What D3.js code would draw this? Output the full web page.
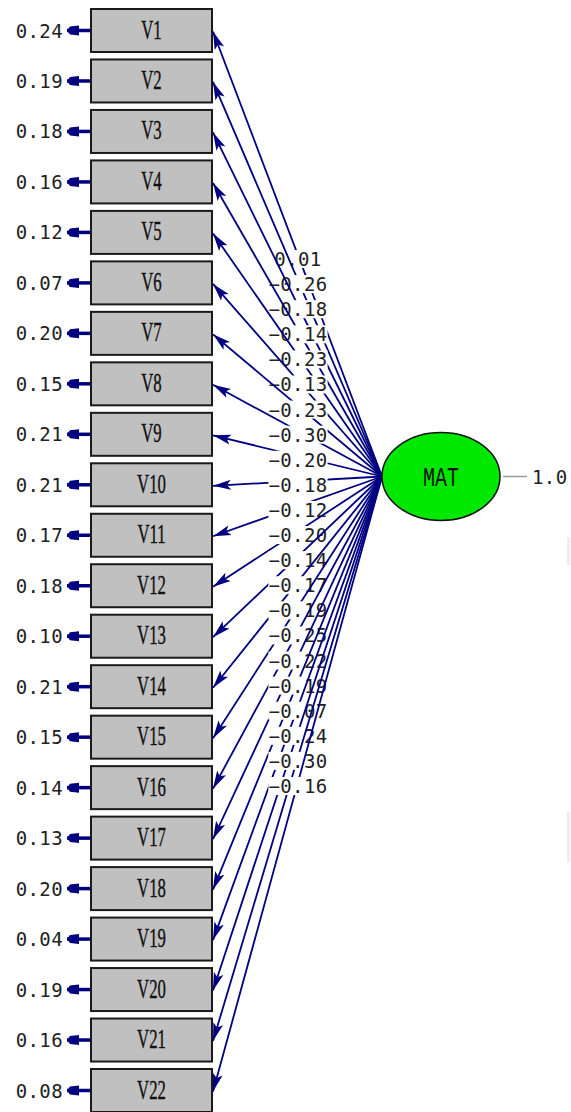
<!DOCTYPE html>
<html>
<head>
<meta charset="utf-8">
<script src="https://cdn.jsdelivr.net/npm/d3@7"></script>
<style>
  body { margin: 0; background: #fff; overflow: hidden; }
  svg { display: block; }
</style>
</head>
<body>
<div id="chart"></div>
<script>
const width = 571, height = 1112;

// observed variables, error variances, loadings on MAT
const vars = d3.range(1, 23).map(i => "V" + i);
const errors = [0.24, 0.19, 0.18, 0.16, 0.12, 0.07, 0.20, 0.15, 0.21, 0.21, 0.17,
                0.18, 0.10, 0.21, 0.15, 0.14, 0.13, 0.20, 0.04, 0.19, 0.16, 0.08];
const loadings = [0.01, -0.26, -0.18, -0.14, -0.23, -0.13, -0.23, -0.30, -0.20, -0.18, -0.12,
                  -0.20, -0.14, -0.17, -0.19, -0.25, -0.22, -0.19, -0.07, -0.24, -0.30, -0.16];
const latent = "MAT";
const latentVar = 1.0;

const data = vars.map((v, i) => ({ name: v, err: errors[i], load: loadings[i] }));

const fmt = d3.format(".2f");
const navy = "#000080";

const svg = d3.select("#chart").append("svg")
  .attr("width", width).attr("height", height);

// box rows and label rows
const yBox = d3.scalePoint().domain(vars).range([30.5, 1090.5]);
const yLab = d3.scalePoint().domain(vars).range([259, 786]);

const box = { x: 91, w: 121, h: 43 };
const ell = { cx: 441, cy: 476.5, rx: 59, ry: 44 };
const labX = 298;

const defs = svg.append("defs");
defs.append("marker")
  .attr("id", "head")
  .attr("markerUnits", "userSpaceOnUse")
  .attr("viewBox", "0 -6 18 12")
  .attr("refX", 18).attr("refY", 0)
  .attr("markerWidth", 18).attr("markerHeight", 12)
  .attr("orient", "auto")
  .append("path").attr("d", "M0,-5L18,0L0,5L4,0Z").attr("fill", navy);
defs.append("marker")
  .attr("id", "ehead")
  .attr("markerUnits", "userSpaceOnUse")
  .attr("viewBox", "0 -6 12 12")
  .attr("refX", 12).attr("refY", 0)
  .attr("markerWidth", 12).attr("markerHeight", 12)
  .attr("orient", "auto")
  .append("path").attr("d", "M0,-5L9,-4L12,0L9,4L0,5Z").attr("fill", navy);

// faint artefacts at right edge
svg.append("rect").attr("x", 567).attr("y", 537).attr("width", 3).attr("height", 28).attr("fill", "#eee");
svg.append("rect").attr("x", 567).attr("y", 812).attr("width", 3).attr("height", 50).attr("fill", "#eee");

// boxes
const boxes = svg.append("g").attr("class", "boxes")
  .selectAll("g").data(data).join("g")
  .attr("transform", d => `translate(0,${yBox(d.name)})`);

boxes.append("rect")
  .attr("x", box.x).attr("y", -box.h / 2)
  .attr("width", box.w).attr("height", box.h)
  .attr("fill", "#c0c0c0").attr("stroke", "#1a1a1a").attr("stroke-width", 2);

boxes.append("text")
  .attr("transform", `translate(${box.x + box.w / 2},8) scale(0.62,1)`)
  .attr("text-anchor", "middle")
  .attr("font-family", "Liberation Serif, serif")
  .attr("font-size", 27)
  .attr("fill", "#111")
  .attr("stroke", "#111").attr("stroke-width", 0.4)
  .text(d => d.name);

// error arrows
boxes.append("line")
  .attr("x1", box.x - 1).attr("x2", 67).attr("y1", 0).attr("y2", 0)
  .attr("stroke", navy).attr("stroke-width", 3.5)
  .attr("marker-end", "url(#ehead)");

boxes.append("text")
  .attr("x", 63).attr("y", 7)
  .attr("text-anchor", "end")
  .attr("font-family", "DejaVu Sans Mono, monospace")
  .attr("font-size", 19)
  .attr("letter-spacing", 0.4)
  .attr("fill", "#222")
  .text(d => fmt(d.err));

// loading paths, each with its label drawn in order
const paths = svg.append("g").attr("class", "paths")
  .selectAll("g").data(data).join("g");

paths.append("line")
  .attr("x1", ell.cx - ell.rx).attr("y1", ell.cy)
  .attr("x2", box.x + box.w + 1).attr("y2", d => yBox(d.name) + 1)
  .attr("stroke", navy).attr("stroke-width", 1.8)
  .attr("marker-end", "url(#head)");

paths.append("rect").attr("fill", "#fff");

const labs = paths.append("text")
  .attr("x", labX).attr("y", d => yLab(d.name) + 7)
  .attr("text-anchor", "middle")
  .attr("font-family", "DejaVu Sans Mono, monospace")
  .attr("font-size", 19)
  .attr("letter-spacing", 0.4)
  .attr("fill", "#222")
  .text(d => fmt(d.load));

labs.each(function () {
  const b = this.getBBox();
  d3.select(this.previousSibling)
    .attr("x", b.x).attr("y", b.y + 2)
    .attr("width", b.width).attr("height", b.height - 4);
});

// latent variable
svg.append("ellipse")
  .attr("cx", ell.cx).attr("cy", ell.cy)
  .attr("rx", ell.rx).attr("ry", ell.ry)
  .attr("fill", "#00e800").attr("stroke", "#111").attr("stroke-width", 1.5);

svg.append("text")
  .attr("transform", `translate(${ell.cx},${ell.cy + 9}) scale(1,1.35)`)
  .attr("text-anchor", "middle")
  .attr("font-family", "Liberation Mono, monospace")
  .attr("font-size", 20)
  .attr("fill", "#111")
  .text(latent);

svg.append("line")
  .attr("x1", ell.cx + ell.rx + 3).attr("x2", 527)
  .attr("y1", ell.cy).attr("y2", ell.cy)
  .attr("stroke", "#999").attr("stroke-width", 1.5);

svg.append("text")
  .attr("x", 532).attr("y", ell.cy + 7)
  .attr("font-family", "DejaVu Sans Mono, monospace")
  .attr("font-size", 19)
  .attr("letter-spacing", 0.4)
  .attr("fill", "#222")
  .text(d3.format(".1f")(latentVar));
</script>
</body>
</html>
